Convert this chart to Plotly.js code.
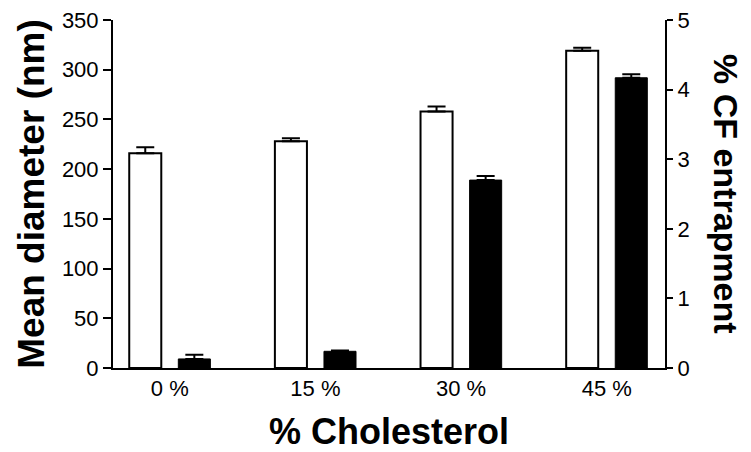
<!DOCTYPE html>
<html>
<head>
<meta charset="utf-8">
<script src="https://cdn.plot.ly/plotly-3.0.1.min.js"></script>
<style>html,body{margin:0;padding:0;background:#fff;}#chart{width:751px;height:452px;}</style>
</head>
<body>
<div id="chart"></div>
<script>
// Data
const categories = ['0 %', '15 %', '30 %', '45 %'];
const meanDiameter = [216, 228, 258, 319];      // nm, left axis (white bars)
const meanDiameterErr = [6, 3, 5, 3];
const cfEntrapment = [0.13, 0.24, 2.70, 4.17];  // %, right axis (black bars)
const cfEntrapmentErr = [0.06, 0.01, 0.06, 0.05];
const leftTicks = [0, 50, 100, 150, 200, 250, 300, 350];
const rightTicks = [0, 1, 2, 3, 4, 5];

const FONT = 'Liberation Sans, Arial, Helvetica, sans-serif';

const traces = [
  {
    type: 'bar', x: categories, y: meanDiameter, yaxis: 'y',
    width: 0.22, offset: -0.2785,
    marker: {color: '#ffffff', line: {color: '#000000', width: 2}},
    error_y: {type: 'data', symmetric: false, array: meanDiameterErr,
              arrayminus: meanDiameter.map(() => 0),
              color: '#000000', thickness: 2, width: 9},
    showlegend: false, hoverinfo: 'x+y'
  },
  {
    type: 'bar', x: categories, y: cfEntrapment, yaxis: 'y2',
    width: 0.22, offset: 0.0585,
    marker: {color: '#000000', line: {color: '#000000', width: 1}},
    error_y: {type: 'data', symmetric: false, array: cfEntrapmentErr,
              arrayminus: cfEntrapment.map(() => 0),
              color: '#000000', thickness: 2, width: 9},
    showlegend: false, hoverinfo: 'x+y'
  }
];

const layout = {
  width: 751, height: 452,
  margin: {l: 113, r: 86, t: 20, b: 84, pad: 0},
  paper_bgcolor: '#ffffff', plot_bgcolor: '#ffffff',
  font: {family: FONT, color: '#000000', size: 22},
  showlegend: false,
  xaxis: {
    type: 'category', range: [-0.39, 3.4],
    showline: true, linecolor: '#000000', linewidth: 2,
    ticks: '', showgrid: false, zeroline: false,
    tickfont: {family: FONT, size: 22, color: '#000000'},
    title: {text: '% Cholesterol', font: {family: FONT, size: 36, color: '#000000', weight: 'bold'}, standoff: 20}
  },
  yaxis: {
    range: [0, 350], tickvals: leftTicks, ticktext: leftTicks.map(String),
    showline: true, linecolor: '#000000', linewidth: 2,
    ticks: 'outside', ticklen: 8, tickwidth: 2, tickcolor: '#000000',
    showgrid: false, zeroline: false,
    tickfont: {family: FONT, size: 22, color: '#000000'},
    title: {text: 'Mean diameter (nm)', font: {family: FONT, size: 37, color: '#000000', weight: 'bold'}, standoff: 6}
  },
  yaxis2: {
    range: [0, 5], tickvals: rightTicks, ticktext: rightTicks.map(String),
    overlaying: 'y', side: 'right',
    showline: true, linecolor: '#000000', linewidth: 2,
    ticks: 'outside', ticklen: 6, tickwidth: 2, tickcolor: '#000000',
    showgrid: false, zeroline: false,
    tickfont: {family: FONT, size: 22, color: '#000000'}
  },
  annotations: [{
    text: '% CF entrapment', textangle: 90,
    xref: 'paper', yref: 'paper', x: 1, y: 0.5,
    xanchor: 'left', yanchor: 'middle', xshift: 40, showarrow: false,
    font: {family: FONT, size: 34, color: '#000000', weight: 'bold'}
  }]
};

Plotly.newPlot('chart', traces, layout, {displayModeBar: false, staticPlot: true});
</script>
</body>
</html>
